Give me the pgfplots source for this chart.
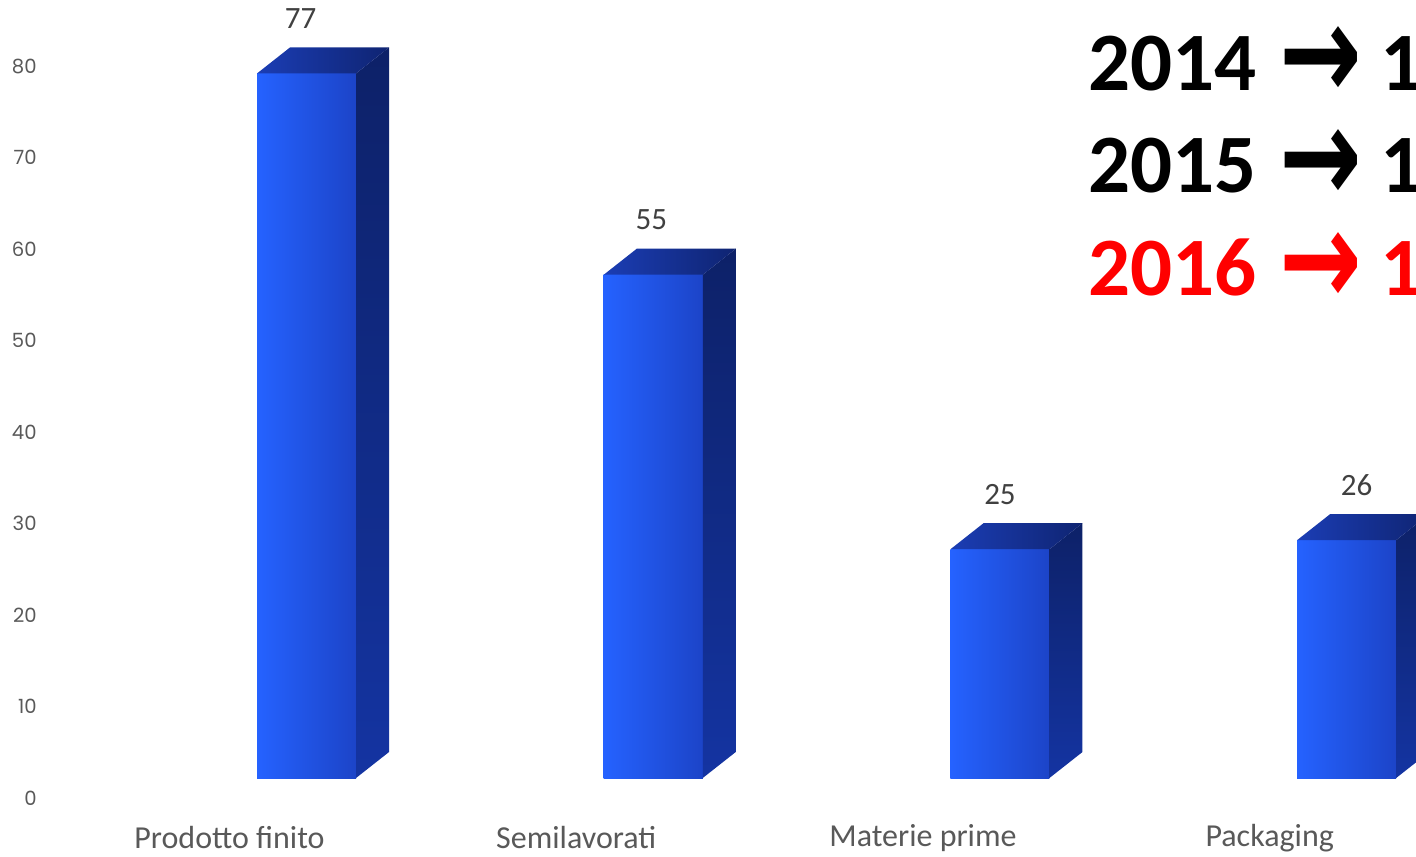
\documentclass[border=0pt]{standalone}
\usepackage{pgfplots}
\pgfplotsset{compat=1.18}
\usepackage{graphicx}
\usepackage{fontspec}
\setmainfont{Carlito}
\newfontfamily\ticksfont{Poppins}
\newfontfamily\arrowfont{DejaVu Sans}

\definecolor{frontA}{HTML}{2562FF}
\definecolor{frontB}{HTML}{1C44C8}
\definecolor{sideA}{HTML}{0D2168}
\definecolor{sideB}{HTML}{1434A2}
\definecolor{topA}{HTML}{1B3DB4}
\definecolor{topB}{HTML}{0F2472}
\definecolor{ticksgray}{HTML}{595959}
\definecolor{valgray}{HTML}{404040}
\definecolor{redtxt}{HTML}{FF0000}

\newcommand{\bigarrow}{\raisebox{-4.6pt}{\scalebox{0.95}[1.3]{\arrowfont\fontsize{52}{52}\selectfont →}}}

% 3D side and top faces of a bar, drawn at the bar's data point (top centre of front face)
\pgfdeclareplotmark{cube3d}{%
  \pgfmathsetmacro\hh{\barh*4.5751}%
  \pgfmathsetmacro\lo{13-\hh}%
  \pgfmathsetmacro\nh{-\hh}%
  \shade[draw=none, top color=sideA, bottom color=sideB]
    (24.75pt,0pt) -- (41.25pt,13pt) -- (41.25pt,\lo pt) -- (24.75pt,\nh pt) -- cycle;
  \shade[draw=none, left color=topA, right color=topB]
    (-24.75pt,0pt) -- (-8.25pt,13pt) -- (41.25pt,13pt) -- (24.75pt,0pt) -- cycle;
}

\pgfplotstableread{
x  y
0  77
1  55
2  25
3  26
}\bardata

\pgfplotsset{
  frontbar/.style={ybar, bar width=49.5pt, draw=none, line width=0pt,
    left color=frontA, right color=frontB},
}

\begin{document}
\begin{tikzpicture}
\clip (0,0) rectangle (708pt,428pt);
\path[use as bounding box] (0,0) rectangle (708pt,428pt);
\begin{axis}[
  at={(0,0)}, anchor=south west,
  scale only axis, width=708pt, height=428pt,
  xmin=-0.8841, xmax=3.2000,
  ymin=-8.5246, ymax=85.0273,
  clip=false,
  axis line style={draw=none},
  tick style={draw=none},
  major tick length=0pt,
  /pgf/number format/assume math mode=true,
  xtick={0,1,2,3},
  xticklabels={Prodotto finito, Semilavorati, Materie prime, Packaging},
  xticklabel style={anchor=center, yshift=9pt, xshift=-38.5pt,
    font=\fontsize{16}{19}\selectfont, text=ticksgray},
  ytick={-2.19,7.81,17.81,27.81,37.81,47.81,57.81,67.81,77.81},
  yticklabels={0,10,20,30,40,50,60,70,80},
  yticklabel style={anchor=east, xshift=18.5pt, inner sep=0pt,
    font=\ticksfont\fontsize{9.8}{11}\selectfont, text=ticksgray},
  nodes near coords style={anchor=center, yshift=27.5pt,
    font=\fontsize{15.5}{18}\selectfont, text=valgray},
]
\addplot[frontbar, x filter/.expression={x==0 ? x : nan}, nodes near coords,
  nodes near coords style={xshift=-3pt}]
  table[x=x, y=y] {\bardata};
\addplot[frontbar, x filter/.expression={x==1 ? x : nan}, nodes near coords,
  nodes near coords style={xshift=-1pt}]
  table[x=x, y=y] {\bardata};
\addplot[frontbar, x filter/.expression={x==2 ? x : nan}, nodes near coords]
  table[x=x, y=y] {\bardata};
\addplot[frontbar, x filter/.expression={x==3 ? x : nan}, nodes near coords,
  nodes near coords style={xshift=5pt}]
  table[x=x, y=y] {\bardata};
\addplot[only marks, mark=cube3d,
  visualization depends on={rawy \as \barh}]
  table[x=x, y=y] {\bardata};
\end{axis}
\node[anchor=base west, inner sep=0pt, font=\fontsize{41.5}{45}\selectfont\bfseries]
  at (544pt,382.65pt) {2014\hspace{11.5pt}\bigarrow\hspace{9pt}1};
\node[anchor=base west, inner sep=0pt, font=\fontsize{41.5}{45}\selectfont\bfseries]
  at (544pt,331.5pt) {2015\hspace{11.5pt}\bigarrow\hspace{9pt}1};
\node[anchor=base west, inner sep=0pt, text=redtxt, font=\fontsize{41.5}{45}\selectfont\bfseries]
  at (544pt,280pt) {2016\hspace{11.5pt}\bigarrow\hspace{9pt}1};
\end{tikzpicture}
\end{document}
